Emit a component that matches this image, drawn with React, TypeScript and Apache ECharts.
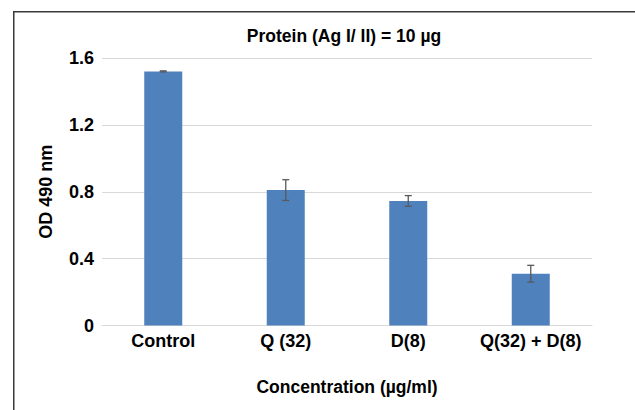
import React, { useEffect, useRef } from "react";
import * as echarts from "echarts";

const categories = ["Control", "Q (32)", "D(8)", "Q(32) + D(8)"];
const means = [1.52, 0.81, 0.745, 0.31];
const errors = [0.003, 0.062, 0.032, 0.05];
const yTicks = { min: 0, max: 1.6, interval: 0.4 };
const titleText = "Protein (Ag I/ II) = 10 µg";
const xName = "Concentration (µg/ml)";
const yName = "OD 490 nm";

const FONT = "'Liberation Sans', Arial, sans-serif";

export default function App() {
  const ref = useRef<HTMLDivElement>(null);
  useEffect(() => {
    if (!ref.current) return;
    const chart = echarts.init(ref.current, null, { renderer: "svg" });
    chart.setOption({
      animation: false,
      backgroundColor: "#ffffff",
      title: {
        text: titleText,
        left: 339,
        textAlign: "center",
        top: 22,
        textStyle: { fontFamily: FONT, fontSize: 17.5, fontWeight: "bold", color: "#000" },
      },
      graphic: [
        {
          type: "rect",
          left: 13,
          top: 11,
          shape: { x: 0, y: 0, width: 640, height: 420 },
          style: { fill: "transparent", stroke: "#3a3a3a", lineWidth: 1.5 },
          silent: true,
        },
      ],
      grid: { left: 102, right: 43, top: 58, bottom: 84.5, containLabel: false },
      xAxis: {
        type: "category",
        data: categories,
        name: xName,
        nameLocation: "middle",
        nameGap: 52,
        nameTextStyle: { fontFamily: FONT, fontSize: 17.5, fontWeight: "bold", color: "#000" },
        axisLine: { show: true, lineStyle: { color: "#d9d9d9", width: 1 } },
        axisTick: { show: false },
        axisLabel: {
          interval: 0,
          hideOverlap: false,
          fontFamily: FONT,
          fontSize: 18,
          fontWeight: "bold",
          color: "#000",
          margin: 6,
        },
      },
      yAxis: {
        type: "value",
        min: yTicks.min,
        max: yTicks.max,
        interval: yTicks.interval,
        name: yName,
        nameLocation: "middle",
        nameGap: 47,
        nameTextStyle: { fontFamily: FONT, fontSize: 18, fontWeight: "bold", color: "#000" },
        axisLine: { show: false },
        axisTick: { show: false },
        splitLine: { lineStyle: { color: "#d9d9d9", width: 1 } },
        axisLabel: {
          fontFamily: FONT,
          fontSize: 18,
          fontWeight: "bold",
          color: "#000",
          margin: 8,
          formatter: (v: number) => (v === 0 ? "0" : v.toFixed(1)),
        },
      },
      series: [
        {
          type: "bar",
          data: means,
          barWidth: 38,
          itemStyle: { color: "#4f81bd" },
        },
        {
          type: "custom",
          data: categories.map((_, i) => [i, means[i], errors[i]]),
          encode: { x: 0, y: 1 },
          z: 5,
          renderItem: (params: any, api: any) => {
            const x = api.value(0);
            const m = api.value(1);
            const e = api.value(2);
            const top = api.coord([x, m + e]);
            const bot = api.coord([x, m - e]);
            const hw = 3.5;
            const st = { stroke: "#595959", lineWidth: 1.3 };
            return {
              type: "group",
              children: [
                { type: "line", shape: { x1: top[0], y1: top[1], x2: bot[0], y2: bot[1] }, style: st },
                { type: "line", shape: { x1: top[0] - hw, y1: top[1], x2: top[0] + hw, y2: top[1] }, style: st },
                { type: "line", shape: { x1: bot[0] - hw, y1: bot[1], x2: bot[0] + hw, y2: bot[1] }, style: st },
              ],
            };
          },
        },
      ],
    });
    return () => chart.dispose();
  }, []);
  return (
    <div
      ref={ref}
      style={{ position: "fixed", left: 0, top: 0, width: 635, height: 410, background: "#fff" }}
    />
  );
}
